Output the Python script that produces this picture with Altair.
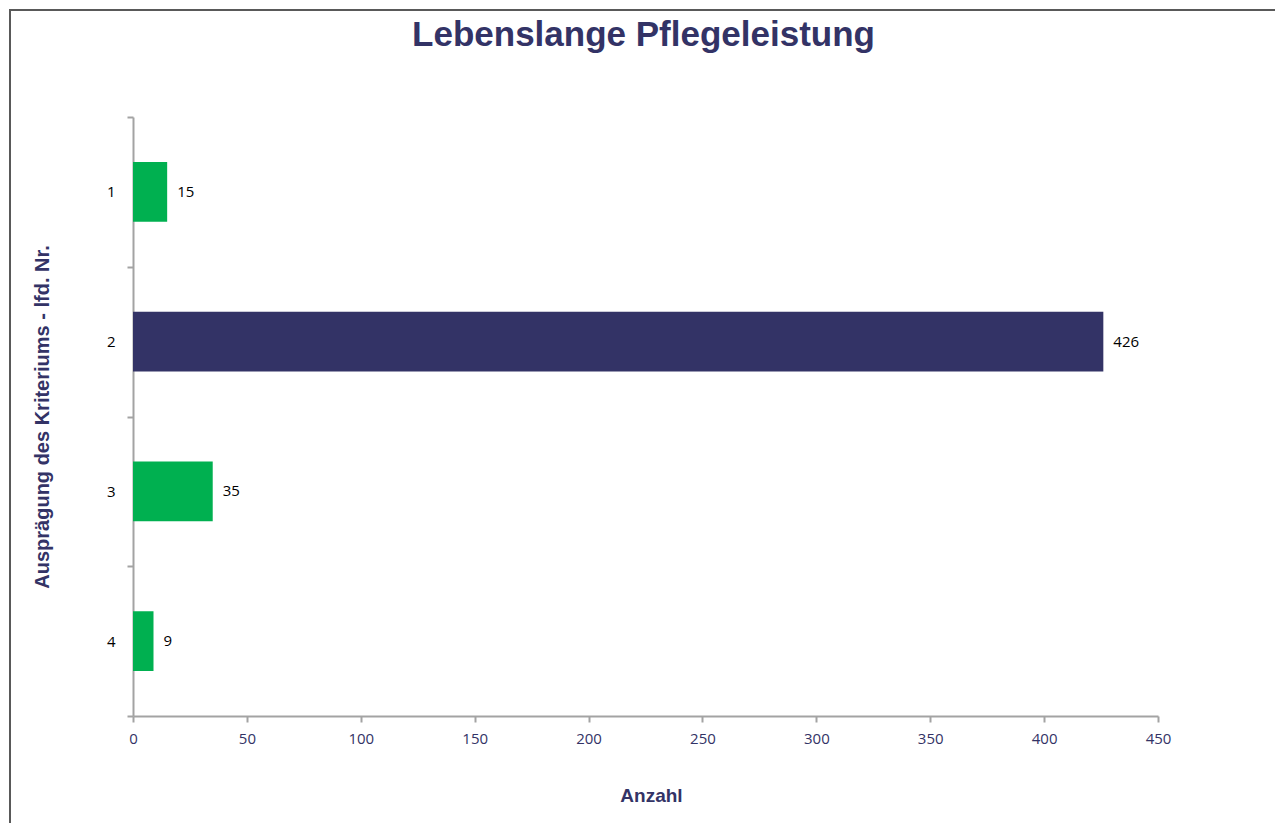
import altair as alt
import pandas as pd

# Data
categories = ["1", "2", "3", "4"]
values = [15, 426, 35, 9]
bar_colors = ["#00B050", "#333366", "#00B050", "#00B050"]
x_ticks = [0, 50, 100, 150, 200, 250, 300, 350, 400, 450]
chart_title = "Lebenslange Pflegeleistung"

df = pd.DataFrame({"cat": categories, "val": values, "col": bar_colors})

AXIS_GRAY = "#a3a3a3"
NAVY = "#333366"

y_enc = alt.Y(
    "cat:N",
    sort=categories,
    scale=alt.Scale(paddingInner=0, paddingOuter=0),
    axis=alt.Axis(
        title="Ausprägung des Kriteriums - lfd. Nr.",
        tickBand="extent",
        labelAngle=0,
        labelFont="Open Sans",
        labelFontSize=15,
        labelColor="#000000",
        labelPadding=12,
        tickSize=6,
        domainColor=AXIS_GRAY,
        tickColor=AXIS_GRAY,
        domainWidth=2,
        tickWidth=2,
        titleX=-91,
        titleY=299.5,
        titleAngle=-90,
        titleBaseline="middle",
        titleAlign="center",
        titleFont="Liberation Sans",
        titleFontSize=20,
        titleFontWeight="bold",
        titleColor=NAVY,
    ),
)

x_enc = alt.X(
    "val:Q",
    scale=alt.Scale(domain=[0, 450]),
    axis=alt.Axis(
        values=x_ticks,
        grid=False,
        title="Anzahl",
        labelFont="Open Sans",
        labelFontSize=15,
        labelColor=NAVY,
        labelPadding=9,
        labelFlush=False,
        labelOverlap=False,
        tickSize=6,
        domainColor=AXIS_GRAY,
        tickColor=AXIS_GRAY,
        domainWidth=2,
        tickWidth=2,
        titleX=518,
        titleY=79,
        titleBaseline="middle",
        titleAlign="center",
        titleFont="Liberation Sans",
        titleFontSize=19,
        titleFontWeight="bold",
        titleColor=NAVY,
    ),
)

base = alt.Chart(df)

bars = base.mark_bar(height=alt.RelativeBandSize(0.4)).encode(
    x=x_enc,
    y=y_enc,
    color=alt.Color("col:N", scale=None),
)

labels = base.mark_text(
    align="left", baseline="middle", dx=10, font="Open Sans", fontSize=15, color="#000000"
).encode(
    x=alt.X("val:Q"),
    y=alt.Y("cat:N", sort=categories),
    text=alt.Text("val:Q"),
)

frame_df = pd.DataFrame({"t": [chart_title]})
frame_top = alt.Chart(frame_df).mark_rule(color="#595959", strokeWidth=2).encode(
    x=alt.value(-124), x2=alt.value(1142), y=alt.value(-107)
)
frame_left = alt.Chart(frame_df).mark_rule(color="#595959", strokeWidth=2).encode(
    x=alt.value(-123), y=alt.value(-108), y2=alt.value(706)
)
title_text = alt.Chart(frame_df).mark_text(
    font="Liberation Sans",
    fontSize=35,
    fontWeight="bold",
    color=NAVY,
    align="center",
    baseline="alphabetic",
).encode(
    x=alt.value(510.5), y=alt.value(-71), text="t:N"
)

chart = (
    alt.layer(bars, labels, frame_top, frame_left, title_text)
    .properties(width=1025, height=599, padding=0)
    .configure(background="white")
    .configure_view(stroke=None)
)

chart.save("out.html", embed_options={"renderer": "svg", "actions": False})
